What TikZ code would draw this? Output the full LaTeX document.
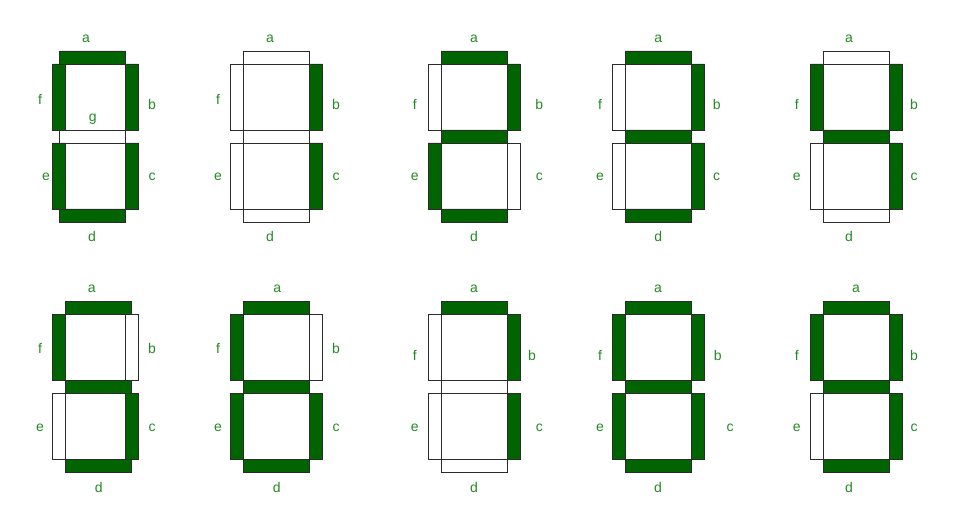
\documentclass[tikz,border=0pt]{standalone}
\usepackage{fontspec}
\setmainfont{Liberation Sans}
\usepackage{xcolor}
\usepackage{tikz}
\definecolor{segfill}{HTML}{006400}
\definecolor{segtext}{HTML}{228B22}
\definecolor{segline}{HTML}{2B2B2B}

\begin{document}
\begin{tikzpicture}[x=1pt, y=-1pt, line join=miter,
  lit/.style={fill=segfill, draw=segline, line width=0.9pt},
  unlit/.style={fill=white, draw=segline, line width=0.9pt},
  lab/.style={text=segtext, font=\fontsize{14}{16}\selectfont, inner sep=0pt}]
\useasboundingbox (0,0) rectangle (970,524);
\draw[unlit] (59.5,130) rectangle (125.5,143);
\draw[lit] (59.5,51) rectangle (125.5,64) (52.5,64) rectangle (65.5,130) (125.5,64) rectangle (138.5,130) (52.5,143) rectangle (65.5,209) (125.5,143) rectangle (138.5,209) (59.5,209) rectangle (125.5,222);
\path (86,39) node[lab] (a0) {a} (40,99) node[lab] (f0) {f} (152,104) node[lab] (b0) {b} (92.7,119) node[lab] (g0) {g} (46,177) node[lab] (e0) {e} (152,177) node[lab] (c0) {c} (92,236) node[lab] (d0) {d};
\draw[unlit] (243.5,51) rectangle (309.5,64) (230.5,64) rectangle (243.5,130) (243.5,130) rectangle (309.5,143) (230.5,143) rectangle (243.5,209) (243.5,209) rectangle (309.5,222);
\draw[lit] (309.5,64) rectangle (322.5,130) (309.5,143) rectangle (322.5,209);
\path (270,39) node[lab] (a1) {a} (218,99) node[lab] (f1) {f} (336,104) node[lab] (b1) {b} (218,177) node[lab] (e1) {e} (336,177) node[lab] (c1) {c} (270,236) node[lab] (d1) {d};
\draw[unlit] (428,64) rectangle (441,130) (507,143) rectangle (520,209);
\draw[lit] (441,51) rectangle (507,64) (507,64) rectangle (520,130) (441,130) rectangle (507,143) (428,143) rectangle (441,209) (441,209) rectangle (507,222);
\path (474,39) node[lab] (a2) {a} (414.7,104) node[lab] (f2) {f} (539.3,104) node[lab] (b2) {b} (414.7,177) node[lab] (e2) {e} (539.3,177) node[lab] (c2) {c} (474,236) node[lab] (d2) {d};
\draw[unlit] (612.5,64) rectangle (625.5,130) (612.5,143) rectangle (625.5,209);
\draw[lit] (625.5,51) rectangle (691.5,64) (691.5,64) rectangle (704.5,130) (625.5,130) rectangle (691.5,143) (691.5,143) rectangle (704.5,209) (625.5,209) rectangle (691.5,222);
\path (658.3,39) node[lab] (a3) {a} (600,104) node[lab] (f3) {f} (716.7,104) node[lab] (b3) {b} (600,177) node[lab] (e3) {e} (716.7,177) node[lab] (c3) {c} (658.3,236) node[lab] (d3) {d};
\draw[unlit] (823,51) rectangle (889,64) (810,143) rectangle (823,209) (823,209) rectangle (889,222);
\draw[lit] (810,64) rectangle (823,130) (889,64) rectangle (902,130) (823,130) rectangle (889,143) (889,143) rectangle (902,209);
\path (849,39) node[lab] (a4) {a} (796.7,104) node[lab] (f4) {f} (914,104) node[lab] (b4) {b} (796.7,177) node[lab] (e4) {e} (914,177) node[lab] (c4) {c} (849,236) node[lab] (d4) {d};
\draw[unlit] (125.5,314) rectangle (138.5,380) (52.5,393) rectangle (65.5,459);
\draw[lit] (65.5,301) rectangle (131.5,314) (52.5,314) rectangle (65.5,380) (65.5,380) rectangle (131.5,393) (125.5,393) rectangle (138.5,459) (65.5,459) rectangle (131.5,472);
\path (91.7,289) node[lab] (a5) {a} (40,348) node[lab] (f5) {f} (152,348) node[lab] (b5) {b} (40,428) node[lab] (e5) {e} (152,428) node[lab] (c5) {c} (98.7,487) node[lab] (d5) {d};
\draw[unlit] (309.5,314) rectangle (322.5,380);
\draw[lit] (243.5,301) rectangle (309.5,314) (230.5,314) rectangle (243.5,380) (243.5,380) rectangle (309.5,393) (230.5,393) rectangle (243.5,459) (309.5,393) rectangle (322.5,459) (243.5,459) rectangle (309.5,472);
\path (277.3,289) node[lab] (a6) {a} (218,348) node[lab] (f6) {f} (336,348) node[lab] (b6) {b} (218,428) node[lab] (e6) {e} (336,428) node[lab] (c6) {c} (276.7,487) node[lab] (d6) {d};
\draw[unlit] (428,314) rectangle (441,380) (441,380) rectangle (507,393) (428,393) rectangle (441,459) (441,459) rectangle (507,472);
\draw[lit] (441,301) rectangle (507,314) (507,314) rectangle (520,380) (507,393) rectangle (520,459);
\path (474,289) node[lab] (a7) {a} (414.7,355) node[lab] (f7) {f} (532,355) node[lab] (b7) {b} (414.7,428) node[lab] (e7) {e} (539.3,428) node[lab] (c7) {c} (474,487) node[lab] (d7) {d};
\draw[lit] (625.5,301) rectangle (691.5,314) (612.5,314) rectangle (625.5,380) (691.5,314) rectangle (704.5,380) (625.5,380) rectangle (691.5,393) (612.5,393) rectangle (625.5,459) (691.5,393) rectangle (704.5,459) (625.5,459) rectangle (691.5,472);
\path (658,289) node[lab] (a8) {a} (600,355) node[lab] (f8) {f} (717.7,355) node[lab] (b8) {b} (600,428) node[lab] (e8) {e} (730,428) node[lab] (c8) {c} (658,487) node[lab] (d8) {d};
\draw[unlit] (810,393) rectangle (823,459);
\draw[lit] (823,301) rectangle (889,314) (810,314) rectangle (823,380) (889,314) rectangle (902,380) (823,380) rectangle (889,393) (889,393) rectangle (902,459) (823,459) rectangle (889,472);
\path (856,289) node[lab] (a9) {a} (796.7,355) node[lab] (f9) {f} (914,355) node[lab] (b9) {b} (796.7,428) node[lab] (e9) {e} (914,428) node[lab] (c9) {c} (849,487) node[lab] (d9) {d};
\end{tikzpicture}
\end{document}
